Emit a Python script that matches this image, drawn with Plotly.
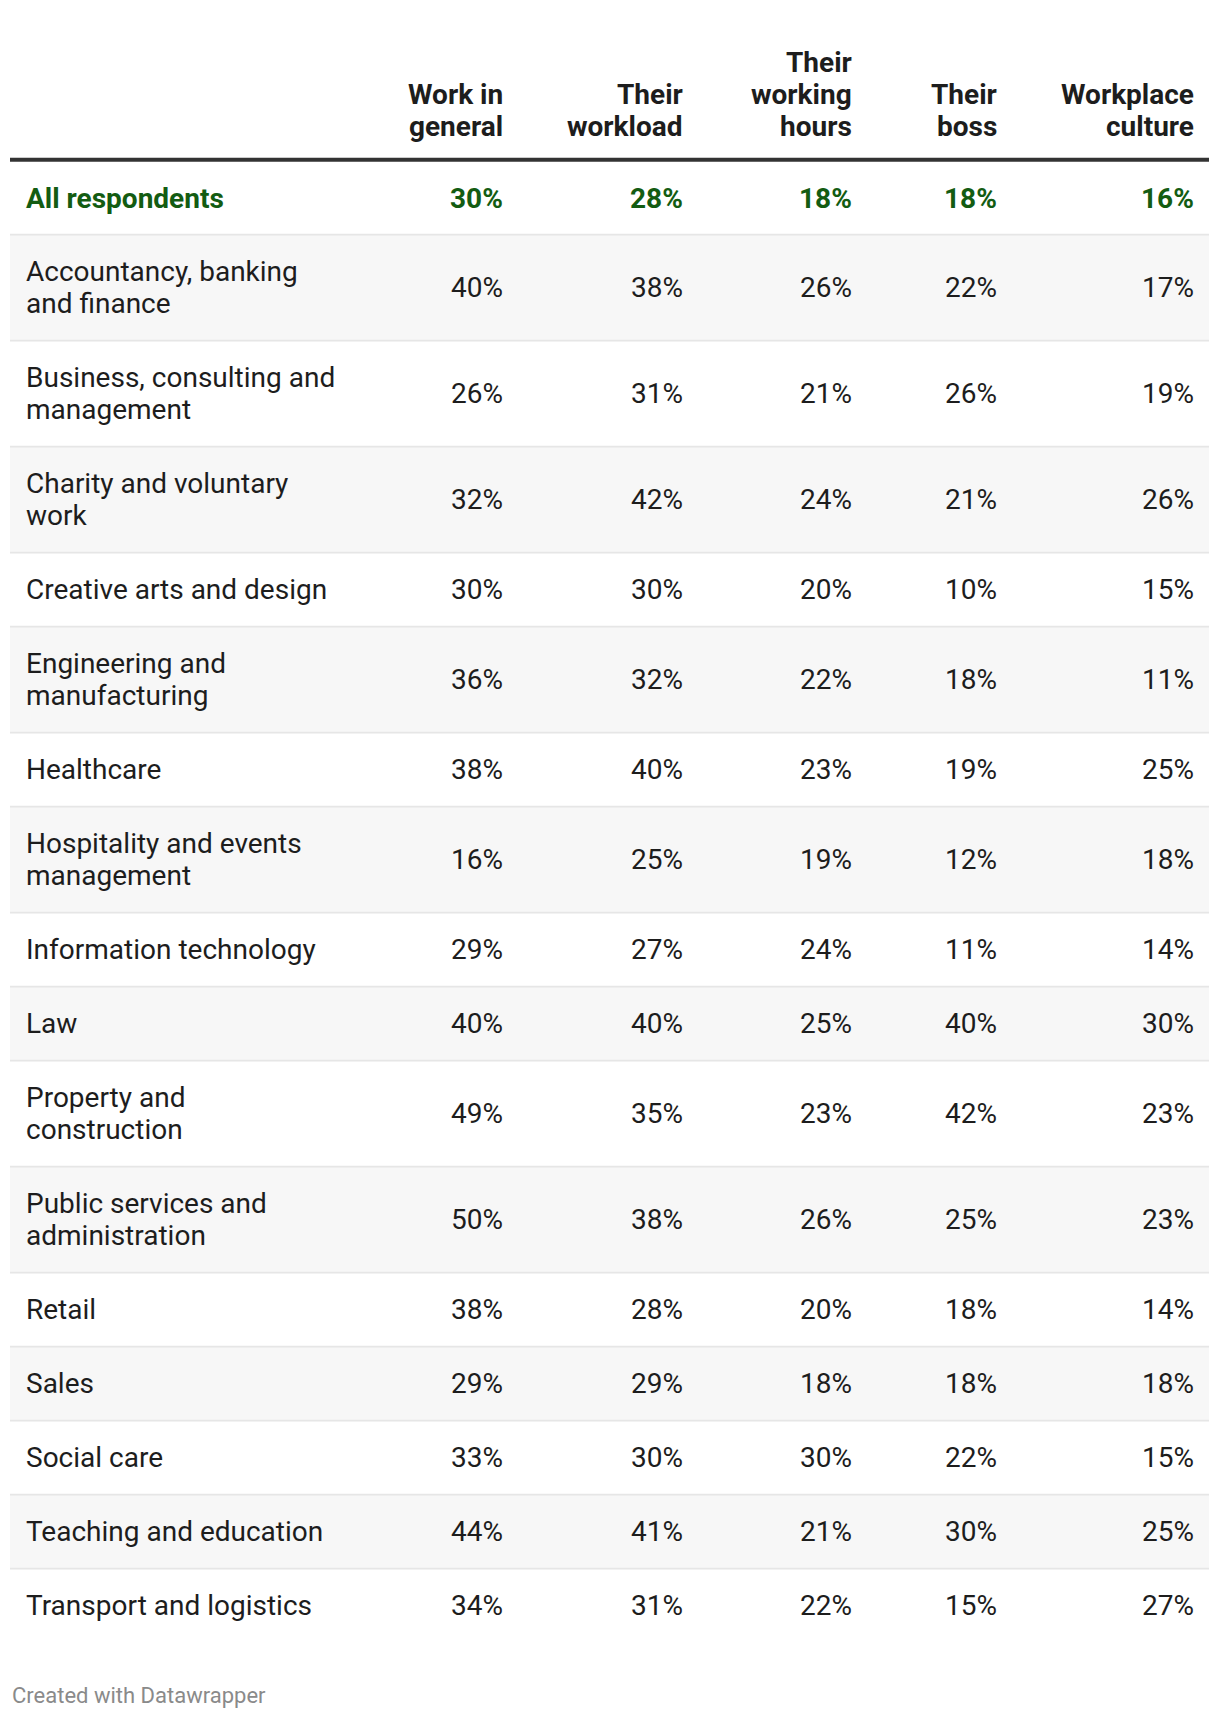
import plotly.graph_objects as go

# ---------------- data ----------------
columns = ["Work in<br>general", "Their<br>workload", "Their<br>working<br>hours", "Their<br>boss", "Workplace<br>culture"]
all_label = "All respondents"
all_values = [30, 28, 18, 18, 16]
categories = [
    "Accountancy, banking<br>and finance",
    "Business, consulting and<br>management",
    "Charity and voluntary<br>work",
    "Creative arts and design",
    "Engineering and<br>manufacturing",
    "Healthcare",
    "Hospitality and events<br>management",
    "Information technology",
    "Law",
    "Property and<br>construction",
    "Public services and<br>administration",
    "Retail",
    "Sales",
    "Social care",
    "Teaching and education",
    "Transport and logistics",
]
work_in_general = [40, 26, 32, 30, 36, 38, 16, 29, 40, 49, 50, 38, 29, 33, 44, 34]
their_workload = [38, 31, 42, 30, 32, 40, 25, 27, 40, 35, 38, 28, 29, 30, 41, 31]
their_working_hours = [26, 21, 24, 20, 22, 23, 19, 24, 25, 23, 26, 20, 18, 30, 21, 22]
their_boss = [22, 26, 21, 10, 18, 19, 12, 11, 40, 42, 25, 18, 18, 22, 30, 15]
workplace_culture = [17, 19, 26, 15, 11, 25, 18, 14, 30, 23, 23, 14, 18, 15, 25, 27]
footer = "Created with Datawrapper"

series = [work_in_general, their_workload, their_working_hours, their_boss, workplace_culture]

# ---------------- style / layout ----------------
W, H = 1220, 1718
FONT = "Roboto"
FS = 28
TEXT = "#1d1d1d"
GREEN = "#135c12"
SHADE = "#f7f7f7"
SEP = "#e6e6e6"
LINE_H = 32
BASE_H = 42.0
LEFT, RIGHT = 10, 1209
LABEL_X = 24
COL_RIGHT = [505, 685, 854, 999, 1196]
TEXT_DY = 0.0
HEADER_BOTTOM_LINE_Y = 126
RULE_Y = 159.7
ALL_TOP, ALL_BOT = 161.7, 234.6

annotations = []
shapes = []


def add_text(x, yc, text, anchor, color=TEXT, bold=False, size=FS):
    lines = text.split("<br>")
    n = len(lines)
    for i, ln in enumerate(lines):
        y = yc + TEXT_DY + (i - (n - 1) / 2) * LINE_H
        annotations.append(dict(
            x=x, y=y, xref="x", yref="y", text=(f"<b>{ln}</b>" if bold else ln),
            showarrow=False, xanchor=anchor, yanchor="middle",
            font=dict(family=FONT, size=size, color=color),
        ))


# header (bottom aligned)
for cx, col in zip(COL_RIGHT, columns):
    lines = col.split("<br>")
    n = len(lines)
    for i, ln in enumerate(lines):
        y = HEADER_BOTTOM_LINE_Y + TEXT_DY - (n - 1 - i) * LINE_H
        annotations.append(dict(
            x=cx, y=y, xref="x", yref="y", text=f"<b>{ln}</b>",
            showarrow=False, xanchor="right", yanchor="middle",
            font=dict(family=FONT, size=FS, color=TEXT),
        ))

shapes.append(dict(type="line", xref="x", yref="y", x0=LEFT, x1=RIGHT, y0=RULE_Y, y1=RULE_Y,
                   line=dict(color="#333333", width=4)))

# all respondents row
yc = (ALL_TOP + ALL_BOT) / 2
add_text(LABEL_X, yc, all_label, "left", GREEN, True)
for cx, v in zip(COL_RIGHT, all_values):
    add_text(cx, yc, f"{v}%", "right", GREEN, True)

# body rows
y = ALL_BOT
for r, cat in enumerate(categories):
    nlines = len(cat.split("<br>"))
    h = BASE_H + LINE_H * nlines
    if r % 2 == 0:
        shapes.append(dict(type="rect", xref="x", yref="y", x0=LEFT, x1=RIGHT, y0=y, y1=y + h,
                           fillcolor=SHADE, line=dict(width=0), layer="below"))
    shapes.append(dict(type="line", xref="x", yref="y", x0=LEFT, x1=RIGHT, y0=y, y1=y,
                       line=dict(color=SEP, width=1.6), layer="below"))
    yc = y + h / 2
    add_text(LABEL_X, yc, cat, "left")
    for cx, s in zip(COL_RIGHT, series):
        add_text(cx, yc, f"{s[r]}%", "right")
    y += h

annotations.append(dict(x=10, y=1695, xref="x", yref="y", text=footer, showarrow=False,
                        xanchor="left", yanchor="middle",
                        font=dict(family=FONT, size=22, color="#8a8a8a")))

fig = go.Figure()
fig.add_trace(go.Scatter(x=[0], y=[0], mode="markers", marker=dict(opacity=0), hoverinfo="skip", showlegend=False))
fig.update_layout(
    width=W, height=H, margin=dict(l=0, r=0, t=0, b=0),
    paper_bgcolor="white", plot_bgcolor="white",
    xaxis=dict(range=[0, W], visible=False, fixedrange=True),
    yaxis=dict(range=[H, 0], visible=False, fixedrange=True),
    annotations=annotations, shapes=shapes, showlegend=False,
)
fig.write_html("out.html", config={"displayModeBar": False},
               post_script="document.body.style.margin='0';document.body.style.overflow='hidden';")
